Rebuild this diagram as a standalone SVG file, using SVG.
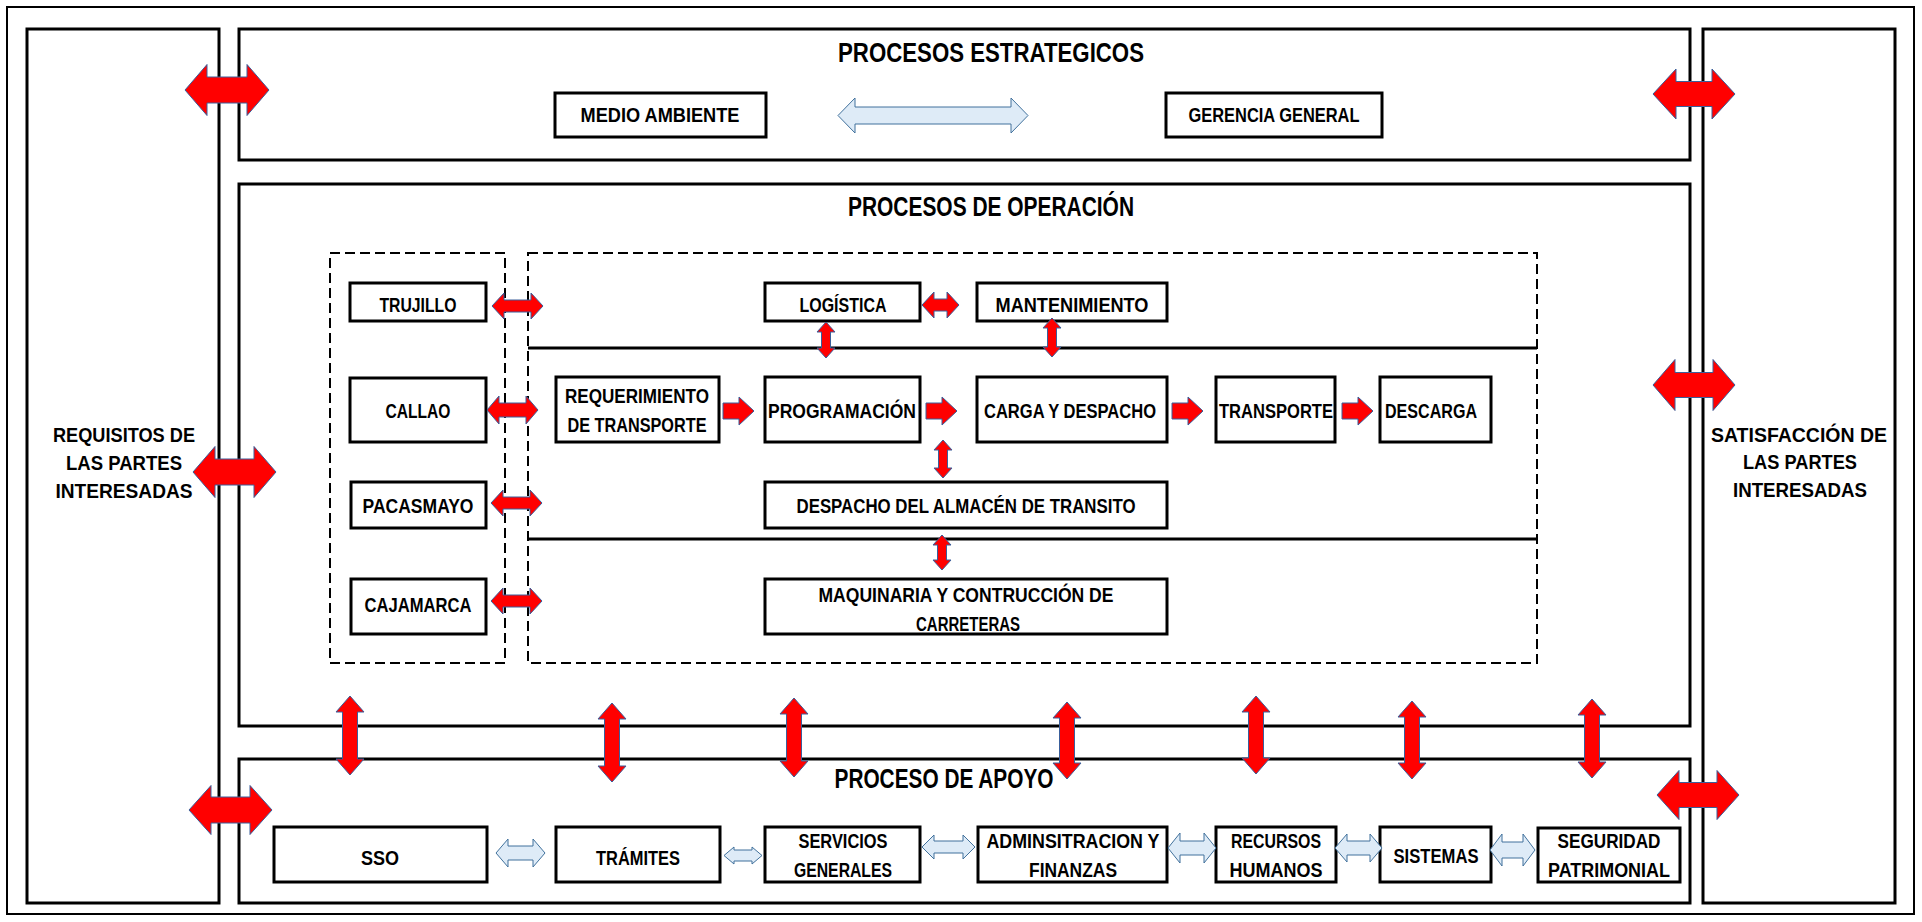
<svg xmlns="http://www.w3.org/2000/svg" width="1922" height="922" viewBox="0 0 1922 922">
<style>
.bg{fill:#fff}
.frame{fill:none;stroke:#000;stroke-width:2}
.box{fill:#fff;stroke:#000;stroke-width:3}
.dash{fill:none;stroke:#000;stroke-width:2;stroke-dasharray:10 5}
.sep{stroke:#000;stroke-width:3}
.t{font-family:"Liberation Sans",Arial,sans-serif;font-weight:bold;font-size:19.5px;fill:#000;text-anchor:middle}
.title{font-size:27px}
.side{font-size:20px}
.red{fill:#FF0000;stroke:#3A5F9B;stroke-width:1}
.blue{fill:#DEEBF7;stroke:#41719C;stroke-width:1}
</style>
<rect class="bg" x="0" y="0" width="1922" height="922"/>
<rect class="frame" x="7" y="7" width="1907" height="907"/>

<g id="requisitos">
<rect class="box" x="27" y="29" width="192" height="874"/>
<text class="t side" x="124" y="442" textLength="142" lengthAdjust="spacingAndGlyphs">REQUISITOS DE</text>
<text class="t side" x="124" y="470" textLength="116" lengthAdjust="spacingAndGlyphs">LAS PARTES</text>
<text class="t side" x="124" y="498" textLength="137" lengthAdjust="spacingAndGlyphs">INTERESADAS</text>
</g>
<g id="satisfaccion">
<rect class="box" x="1703" y="29" width="192" height="874"/>
<text class="t side" x="1799" y="442" textLength="176" lengthAdjust="spacingAndGlyphs">SATISFACCIÓN  DE</text>
<text class="t side" x="1800" y="469" textLength="114" lengthAdjust="spacingAndGlyphs">LAS PARTES</text>
<text class="t side" x="1800" y="497" textLength="134" lengthAdjust="spacingAndGlyphs">INTERESADAS</text>
</g>

<g id="estrategicos">
<rect class="box" x="239" y="29" width="1451" height="131"/>
<text class="t title" x="991" y="62" textLength="306" lengthAdjust="spacingAndGlyphs">PROCESOS ESTRATEGICOS</text>
</g>
<g id="operacion">
<rect class="box" x="239" y="184" width="1451" height="542"/>
<text class="t title" x="991" y="216" textLength="286" lengthAdjust="spacingAndGlyphs">PROCESOS DE OPERACIÓN</text>
<rect class="dash" x="330" y="253" width="175" height="410"/>
<rect class="dash" x="528" y="253" width="1009" height="410"/>
<line class="sep" x1="528" y1="348" x2="1537" y2="348"/>
<line class="sep" x1="528" y1="539" x2="1537" y2="539"/>
</g>
<g id="apoyo">
<rect class="box" x="239" y="759" width="1451" height="144"/>
<text class="t title" x="944" y="788" textLength="219" lengthAdjust="spacingAndGlyphs">PROCESO DE APOYO</text>
</g>

<g id="medio-ambiente"><rect class="box" x="555" y="93" width="211" height="44"/><text class="t" x="660" y="122" textLength="159" lengthAdjust="spacingAndGlyphs">MEDIO AMBIENTE</text></g>
<g id="gerencia-general"><rect class="box" x="1166" y="93" width="216" height="44"/><text class="t" x="1274" y="122" textLength="171" lengthAdjust="spacingAndGlyphs">GERENCIA GENERAL</text></g>

<g id="trujillo"><rect class="box" x="350" y="283" width="136" height="38"/><text class="t" x="418" y="312" textLength="77" lengthAdjust="spacingAndGlyphs">TRUJILLO</text></g>
<g id="callao"><rect class="box" x="350" y="378" width="136" height="64"/><text class="t" x="418" y="418" textLength="65" lengthAdjust="spacingAndGlyphs">CALLAO</text></g>
<g id="pacasmayo"><rect class="box" x="351" y="482" width="135" height="46"/><text class="t" x="418" y="513" textLength="111" lengthAdjust="spacingAndGlyphs">PACASMAYO</text></g>
<g id="cajamarca"><rect class="box" x="351" y="579" width="135" height="55"/><text class="t" x="418" y="612" textLength="107" lengthAdjust="spacingAndGlyphs">CAJAMARCA</text></g>

<g id="logistica"><rect class="box" x="765" y="283" width="155" height="38"/><text class="t" x="843" y="312" textLength="87" lengthAdjust="spacingAndGlyphs">LOGÍSTICA</text></g>
<g id="mantenimiento"><rect class="box" x="977" y="283" width="190" height="38"/><text class="t" x="1072" y="312" textLength="153" lengthAdjust="spacingAndGlyphs">MANTENIMIENTO</text></g>
<g id="requerimiento"><rect class="box" x="556" y="377" width="163" height="65"/><text class="t" x="637" y="403" textLength="144" lengthAdjust="spacingAndGlyphs">REQUERIMIENTO</text><text class="t" x="637" y="432" textLength="139" lengthAdjust="spacingAndGlyphs">DE TRANSPORTE</text></g>
<g id="programacion"><rect class="box" x="765" y="377" width="155" height="65"/><text class="t" x="842" y="418" textLength="148" lengthAdjust="spacingAndGlyphs">PROGRAMACIÓN</text></g>
<g id="carga-despacho"><rect class="box" x="977" y="377" width="190" height="65"/><text class="t" x="1070" y="418" textLength="172" lengthAdjust="spacingAndGlyphs">CARGA Y DESPACHO</text></g>
<g id="transporte"><rect class="box" x="1216" y="377" width="119" height="65"/><text class="t" x="1276" y="418" textLength="114" lengthAdjust="spacingAndGlyphs">TRANSPORTE</text></g>
<g id="descarga"><rect class="box" x="1380" y="377" width="111" height="65"/><text class="t" x="1431" y="418" textLength="92" lengthAdjust="spacingAndGlyphs">DESCARGA</text></g>
<g id="despacho-almacen"><rect class="box" x="765" y="482" width="402" height="46"/><text class="t" x="966" y="513" textLength="339" lengthAdjust="spacingAndGlyphs">DESPACHO DEL ALMACÉN DE TRANSITO</text></g>
<g id="maquinaria"><rect class="box" x="765" y="579" width="402" height="55"/><text class="t" x="966" y="602" textLength="295" lengthAdjust="spacingAndGlyphs">MAQUINARIA Y CONTRUCCIÓN DE</text><text class="t" x="968" y="631" textLength="104" lengthAdjust="spacingAndGlyphs">CARRETERAS</text></g>

<g id="sso"><rect class="box" x="274" y="827" width="213" height="55"/><text class="t" x="380" y="865" textLength="38" lengthAdjust="spacingAndGlyphs">SSO</text></g>
<g id="tramites"><rect class="box" x="556" y="827" width="164" height="55"/><text class="t" x="638" y="865" textLength="84" lengthAdjust="spacingAndGlyphs">TRÁMITES</text></g>
<g id="servicios-generales"><rect class="box" x="765" y="827" width="155" height="55"/><text class="t" x="843" y="848" textLength="89" lengthAdjust="spacingAndGlyphs">SERVICIOS</text><text class="t" x="843" y="877" textLength="98" lengthAdjust="spacingAndGlyphs">GENERALES</text></g>
<g id="administracion"><rect class="box" x="978" y="827" width="189" height="55"/><text class="t" x="1073" y="848" textLength="173" lengthAdjust="spacingAndGlyphs">ADMINSITRACION Y</text><text class="t" x="1073" y="877" textLength="88" lengthAdjust="spacingAndGlyphs">FINANZAS</text></g>
<g id="recursos-humanos"><rect class="box" x="1216" y="827" width="120" height="55"/><text class="t" x="1276" y="848" textLength="90" lengthAdjust="spacingAndGlyphs">RECURSOS</text><text class="t" x="1276" y="877" textLength="93" lengthAdjust="spacingAndGlyphs">HUMANOS</text></g>
<g id="sistemas"><rect class="box" x="1380" y="827" width="111" height="55"/><text class="t" x="1436" y="863" textLength="85" lengthAdjust="spacingAndGlyphs">SISTEMAS</text></g>
<g id="seguridad-patrimonial"><rect class="box" x="1538" y="828" width="142" height="54"/><text class="t" x="1609" y="848" textLength="103" lengthAdjust="spacingAndGlyphs">SEGURIDAD</text><text class="t" x="1609" y="877" textLength="122" lengthAdjust="spacingAndGlyphs">PATRIMONIAL</text></g>

<g id="connectors">
<polygon class="red" points="185,90 207,64.5 207,77 247,77 247,64.5 269,90 247,115.5 247,103 207,103 207,115.5"/>
<polygon class="red" points="1653,94 1676,69 1676,81.5 1712,81.5 1712,69 1735,94 1712,119 1712,106.5 1676,106.5 1676,119"/>
<polygon class="red" points="193,472 215,446.5 215,459 254,459 254,446.5 276,472 254,497.5 254,485 215,485 215,497.5"/>
<polygon class="red" points="1653,385 1675,359.5 1675,372.5 1713,372.5 1713,359.5 1735,385 1713,410.5 1713,397.5 1675,397.5 1675,410.5"/>
<polygon class="red" points="189,810 211,785.5 211,797 250,797 250,785.5 272,810 250,834.5 250,823 211,823 211,834.5"/>
<polygon class="red" points="1657,795 1679,770.5 1679,782.5 1717,782.5 1717,770.5 1739,795 1717,819.5 1717,807.5 1679,807.5 1679,819.5"/>
<polygon class="blue" points="838,115.5 855,98 855,107 1011,107 1011,98 1028,115.5 1011,133 1011,124 855,124 855,133"/>
<polygon class="red" points="350,696 364,712 357.5,712 357.5,759 364,759 350,775 336,759 342.5,759 342.5,712 336,712"/>
<polygon class="red" points="612,703 626,719 619.5,719 619.5,766 626,766 612,782 598,766 604.5,766 604.5,719 598,719"/>
<polygon class="red" points="794,698 808,714 801.5,714 801.5,761 808,761 794,777 780,761 786.5,761 786.5,714 780,714"/>
<polygon class="red" points="1067,702 1081,718 1074.5,718 1074.5,763 1081,763 1067,779 1053,763 1059.5,763 1059.5,718 1053,718"/>
<polygon class="red" points="1256,696 1270,712 1263.5,712 1263.5,758 1270,758 1256,774 1242,758 1248.5,758 1248.5,712 1242,712"/>
<polygon class="red" points="1412,701 1426,717 1419.5,717 1419.5,763 1426,763 1412,779 1398,763 1404.5,763 1404.5,717 1398,717"/>
<polygon class="red" points="1592,699 1606,715 1599.5,715 1599.5,762 1606,762 1592,778 1578,762 1584.5,762 1584.5,715 1578,715"/>
<polygon class="red" points="492,306 504,293 504,300 531,300 531,293 543,306 531,319 531,312 504,312 504,319"/>
<polygon class="red" points="487,410 499,396 499,403 526,403 526,396 538,410 526,424 526,417 499,417 499,424"/>
<polygon class="red" points="491,503 503,490 503,497 530,497 530,490 542,503 530,516 530,509 503,509 503,516"/>
<polygon class="red" points="491,601 503,588 503,595 530,595 530,588 542,601 530,614 530,607 503,607 503,614"/>
<polygon class="red" points="922,305 934,292 934,299 947,299 947,292 959,305 947,318 947,311 934,311 934,318"/>
<polygon class="red" points="826,322 835,332 830.5,332 830.5,348 835,348 826,358 817,348 821.5,348 821.5,332 817,332"/>
<polygon class="red" points="1052,318 1061,328 1056.5,328 1056.5,347 1061,347 1052,357 1043,347 1047.5,347 1047.5,328 1043,328"/>
<polygon class="red" points="943,440 952,450 947.5,450 947.5,468 952,468 943,478 934,468 938.5,468 938.5,450 934,450"/>
<polygon class="red" points="942,535 951,545 946.5,545 946.5,560 951,560 942,570 933,560 937.5,560 937.5,545 933,545"/>
<polygon class="red" points="723,403 739,403 739,397 754,411 739,425 739,419 723,419"/>
<polygon class="red" points="926,403 942,403 942,397 957,411 942,425 942,419 926,419"/>
<polygon class="red" points="1172,403 1188,403 1188,397 1203,411 1188,425 1188,419 1172,419"/>
<polygon class="red" points="1342,403 1358,403 1358,397 1373,411 1358,425 1358,419 1342,419"/>
<polygon class="blue" points="496,853 508,839 508,846 533,846 533,839 545,853 533,867 533,860 508,860 508,867"/>
<polygon class="blue" points="724,855.5 734,847 734,850 752,850 752,847 762,855.5 752,864 752,861 734,861 734,864"/>
<polygon class="blue" points="922,847 934,835 934,841 963,841 963,835 975,847 963,859 963,853 934,853 934,859"/>
<polygon class="blue" points="1168,848 1180,833 1180,841 1204,841 1204,833 1216,848 1204,863 1204,855 1180,855 1180,863"/>
<polygon class="blue" points="1335,848 1347,834 1347,841 1370,841 1370,834 1382,848 1370,862 1370,855 1347,855 1347,862"/>
<polygon class="blue" points="1490,850 1502,834 1502,842 1523,842 1523,834 1535,850 1523,866 1523,858 1502,858 1502,866"/>
</g>
</svg>
